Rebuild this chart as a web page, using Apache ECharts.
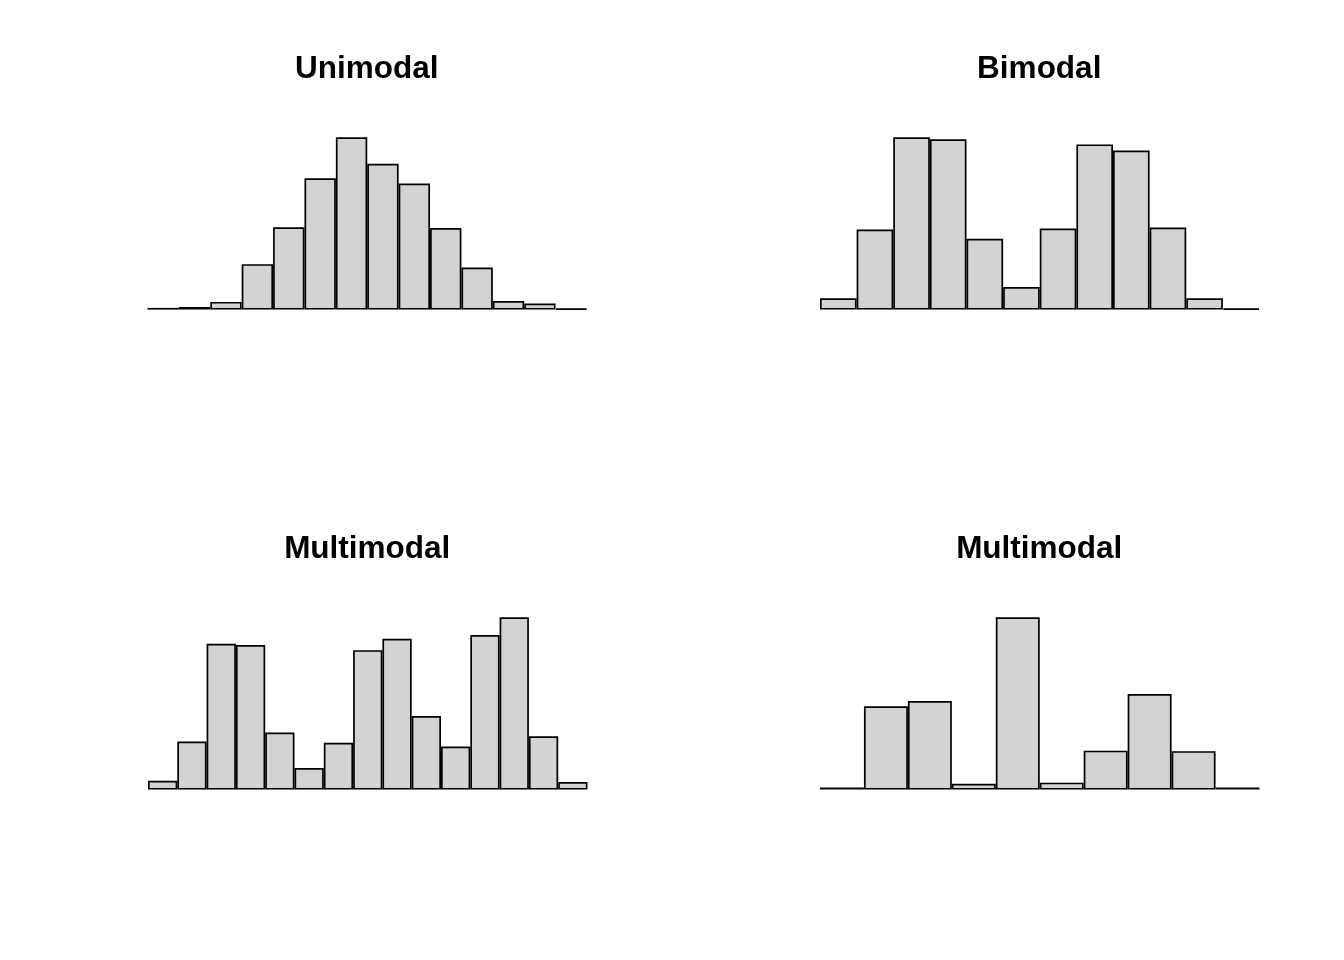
<!DOCTYPE html>
<html>
<head>
<meta charset="utf-8">
<script src="https://cdn.jsdelivr.net/npm/echarts@6/dist/echarts.min.js"></script>
<style>
  html, body { margin: 0; padding: 0; background: #fff; }
  #chart { width: 1344px; height: 960px; }
</style>
</head>
<body>
<div id="chart"></div>
<script>
// bar counts
var unimodal = [2, 3, 9, 53, 96, 153, 201, 170, 147, 95, 49, 10, 7, 1];
var bimodal = [11, 78, 168, 166, 69, 22, 79, 161, 155, 80, 11, 1];
var multimodal1 = [7, 38, 115, 114, 45, 17, 37, 110, 119, 58, 34, 122, 136, 42, 6];
var multimodal2 = [4, 156, 166, 11, 323, 13, 73, 179, 72, 4];
var titles = ['Unimodal', 'Bimodal', 'Multimodal', 'Multimodal'];

function render_graphs () {
    var chartobj = echarts.init(document.getElementById('chart'));
    var panels = [
        { data: unimodal, left: 147.5, top: 137.2 },
        { data: bimodal, left: 820, top: 137.2 },
        { data: multimodal1, left: 148, top: 617.2 },
        { data: multimodal2, left: 820, top: 617.2 }
    ];
    var grids = [], xAxes = [], yAxes = [], series = [], titleList = [];
    panels.forEach(function (p, i) {
        grids.push({ left: p.left, top: p.top, width: 439.5, height: 172.4 });
        xAxes.push({
            type: 'category', gridIndex: i,
            data: p.data.map(function (v, k) { return k; }),
            show: false
        });
        yAxes.push({
            type: 'value', gridIndex: i, min: 0,
            max: Math.max.apply(null, p.data),
            show: false
        });
        series.push({
            type: 'bar', xAxisIndex: i, yAxisIndex: i,
            data: p.data,
            barCategoryGap: '0%',
            silent: true,
            itemStyle: { color: '#d3d3d3', borderColor: '#000', borderWidth: 1.7 }
        });
        titleList.push({
            text: titles[i],
            left: p.left + 439.5 / 2 - 5.5,
            top: p.top - 88.5,
            textAlign: 'center',
            textStyle: {
                fontFamily: 'Liberation Sans',
                fontWeight: 'bold',
                fontSize: 31.5,
                color: '#000'
            }
        });
    });
    var option = {
        backgroundColor: '#fff',
        animation: false,
        title: titleList,
        grid: grids,
        xAxis: xAxes,
        yAxis: yAxes,
        series: series
    };
    chartobj.setOption(option);
}
render_graphs();
</script>
</body>
</html>
